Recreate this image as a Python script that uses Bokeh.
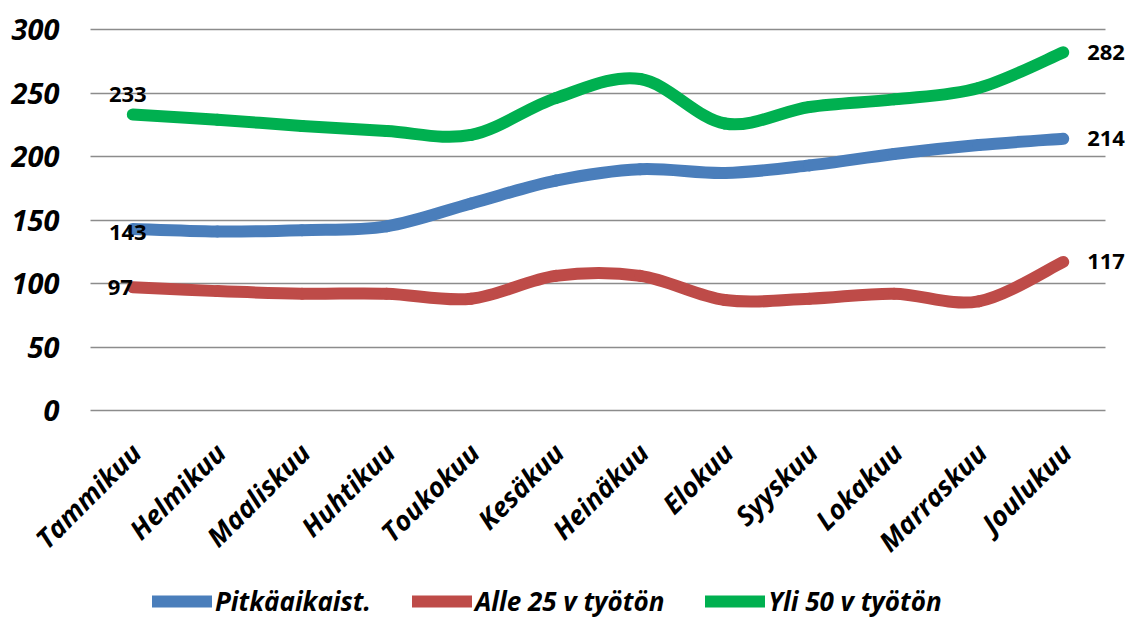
import math
from bokeh.plotting import figure
from bokeh.models import Range1d, FixedTicker, Legend, LegendItem, ColumnDataSource, LabelSet
from bokeh.core.properties import value
from bokeh.embed import file_html
from bokeh.resources import INLINE

months = ["Tammikuu", "Helmikuu", "Maaliskuu", "Huhtikuu", "Toukokuu", "Kesäkuu",
          "Heinäkuu", "Elokuu", "Syyskuu", "Lokakuu", "Marraskuu", "Joulukuu"]
pitkaaikaiset = [143, 141, 142, 145, 163, 181, 190, 187, 193, 202, 209, 214]
alle25 = [97, 94, 92, 92, 88, 106, 106, 87, 88, 92, 86, 117]
yli50 = [233, 229, 224, 220, 217, 246, 261, 226, 239, 245, 254, 282]
series_names = ["Pitkäaikaist.", "Alle 25 v työtön", "Yli 50 v työtön"]
colors = ["#4A7EBB", "#BE4B48", "#00B050"]
y_ticks = [0, 50, 100, 150, 200, 250, 300]

FONT = "Open Sans"

# layout (pixels): plot area 1015 x 381 with top-left at (90, 29); the frame is
# extended to the page edges so that labels and legend are not clipped
PX_PER_CAT = 1015 / len(months)
PX_PER_UNIT = 381 / 300
EXTRA_LEFT = 90
EXTRA_RIGHT = 22
EXTRA_TOP = 29
EXTRA_BOTTOM = 209

x_lo, x_hi = -0.5, len(months) - 0.5
p = figure(frame_width=1015 + EXTRA_LEFT + EXTRA_RIGHT,
           frame_height=381 + EXTRA_TOP + EXTRA_BOTTOM,
           output_backend="svg", toolbar_location=None,
           x_range=Range1d(x_lo - EXTRA_LEFT / PX_PER_CAT, x_hi + EXTRA_RIGHT / PX_PER_CAT),
           y_range=Range1d(-EXTRA_BOTTOM / PX_PER_UNIT, 300 + EXTRA_TOP / PX_PER_UNIT),
           min_border=0)
p.outline_line_color = None
p.background_fill_color = "white"
p.border_fill_color = "white"

# y axis, drawn at the left edge of the plot area
p.yaxis.fixed_location = x_lo
p.yaxis.ticker = FixedTicker(ticks=y_ticks)
p.yaxis.axis_line_color = None
p.yaxis.major_tick_line_color = None
p.yaxis.minor_tick_line_color = None
p.yaxis.major_label_standoff = 25
p.yaxis.major_label_text_font = FONT
p.yaxis.major_label_text_font_size = "29px"
p.yaxis.major_label_text_font_style = "bold italic"
p.yaxis.major_label_text_color = "black"

# x axis: category labels drawn as rotated labels below the zero line
p.xaxis.visible = False
p.xgrid.grid_line_color = None

grid = p.ygrid[0]
grid.ticker = FixedTicker(ticks=y_ticks)
if "cross_bounds" in grid.properties():
    grid.cross_bounds = (x_lo, x_hi)
    grid.grid_line_color = "#8C8C8C"
    grid.grid_line_width = 1.5
else:
    grid.grid_line_color = None
    p.segment(x0=x_lo, x1=x_hi, y0=y_ticks, y1=y_ticks, line_color="#8C8C8C", line_width=1.5)

month_src = ColumnDataSource(dict(x=list(range(len(months))), y=[0] * len(months), t=months))
p.add_layout(LabelSet(x="x", y="y", text="t", source=month_src, angle=math.pi / 4,
                      x_offset=3, y_offset=-37, text_align="right", text_baseline="middle",
                      text_font=value(FONT), text_font_size="27px",
                      text_font_style="bold italic", text_color="black"))


def bezier_source(vals):
    n = len(vals)
    d = dict(x0=[], y0=[], x1=[], y1=[], cx0=[], cy0=[], cx1=[], cy1=[])
    for i in range(n - 1):
        xm, ym = (i - 1, vals[i - 1]) if i > 0 else (i, vals[i])
        xp, yp = (i + 2, vals[i + 2]) if i + 2 < n else (i + 1, vals[i + 1])
        d["x0"].append(i); d["y0"].append(vals[i])
        d["x1"].append(i + 1); d["y1"].append(vals[i + 1])
        d["cx0"].append(i + (i + 1 - xm) / 6); d["cy0"].append(vals[i] + (vals[i + 1] - ym) / 6)
        d["cx1"].append(i + 1 - (xp - i) / 6); d["cy1"].append(vals[i + 1] - (yp - vals[i]) / 6)
    return ColumnDataSource(d)


items = []
for vals, name, col in zip([pitkaaikaiset, alle25, yli50], series_names, colors):
    r = p.bezier(x0="x0", y0="y0", x1="x1", y1="y1", cx0="cx0", cy0="cy0", cx1="cx1", cy1="cy1",
                 source=bezier_source(vals), line_color=col, line_width=12, line_cap="round")
    items.append(LegendItem(label=name, renderers=[r]))

# data labels: first and last points
last = len(months) - 1
lab_y = [yli50[0], pitkaaikaiset[0], alle25[0], yli50[last], pitkaaikaiset[last], alle25[last]]
lab_src = ColumnDataSource(dict(
    x=[0, 0, 0, last, last, last],
    y=lab_y,
    t=[str(v) for v in lab_y],
    dx=[-5, -5, 0, 24, 24, 24],
    dy=[20, -4, 0, 0, 0, 0],
    align=["center", "center", "right", "left", "left", "left"],
))
p.add_layout(LabelSet(x="x", y="y", text="t", x_offset="dx", y_offset="dy", text_align="align",
                      text_baseline="middle", text_font=value(FONT), text_font_size="22px",
                      text_font_style="bold", text_color="black", source=lab_src))

legend = Legend(items=items, orientation="horizontal", location=(152, 0),
                label_text_font=FONT, label_text_font_size="26px",
                label_text_font_style="bold italic", label_text_color="black",
                glyph_width=60, glyph_height=24, label_standoff=3, spacing=41,
                border_line_color=None, background_fill_alpha=0, padding=0, margin=0)
p.add_layout(legend, "center")

open("out.html", "w").write(file_html(p, INLINE))
